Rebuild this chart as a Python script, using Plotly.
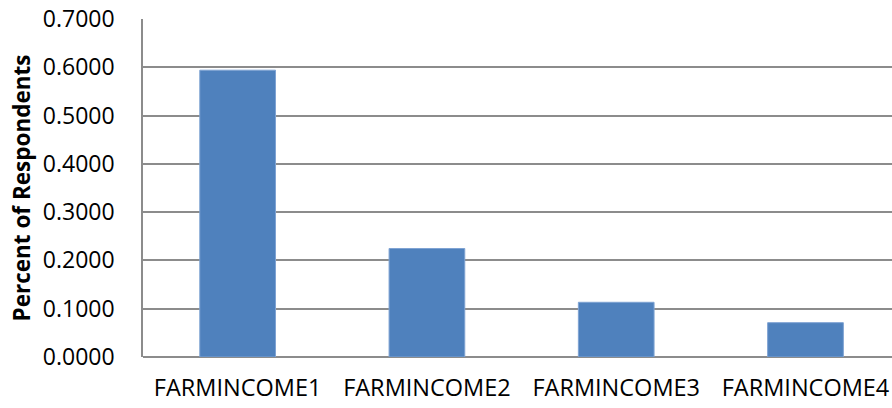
import plotly.graph_objects as go

categories = ["FARMINCOME1", "FARMINCOME2", "FARMINCOME3", "FARMINCOME4"]
percent = [0.594, 0.2247, 0.1133, 0.0711]
y_ticks = [0.0, 0.1, 0.2, 0.3, 0.4, 0.5, 0.6, 0.7]
y_tick_labels = [f"{v:.4f}" for v in y_ticks]

fig = go.Figure(
    go.Bar(
        x=categories,
        y=percent,
        marker=dict(color="#4F81BD", line=dict(color="#7FA3D3", width=1)),
    )
)

fig.update_layout(
    width=892,
    height=408,
    margin=dict(l=143, r=0, t=19, b=51),
    paper_bgcolor="white",
    plot_bgcolor="white",
    bargap=0.6,
    showlegend=False,
    font=dict(family="Open Sans, Liberation Sans, sans-serif", color="#000000"),
)

fig.update_xaxes(
    range=[-0.5, 3.457],
    showgrid=False,
    showline=False,
    ticks="",
    tickfont=dict(size=23.5),
    ticklabelstandoff=14,
)

fig.update_yaxes(
    range=[0, 0.7],
    tickvals=y_ticks,
    ticktext=y_tick_labels,
    showgrid=True,
    gridcolor="#8C8C8C",
    gridwidth=1.5,
    showline=True,
    linecolor="#8C8C8C",
    linewidth=1.5,
    zeroline=True,
    zerolinecolor="#8C8C8C",
    zerolinewidth=1.5,
    ticks="",
    tickfont=dict(size=23),
    ticklabelstandoff=22,
    title=dict(
        text="<b>Percent of Respondents</b>",
        font=dict(size=22.5),
        standoff=6,
    ),
)

fig.write_html("out.html")
